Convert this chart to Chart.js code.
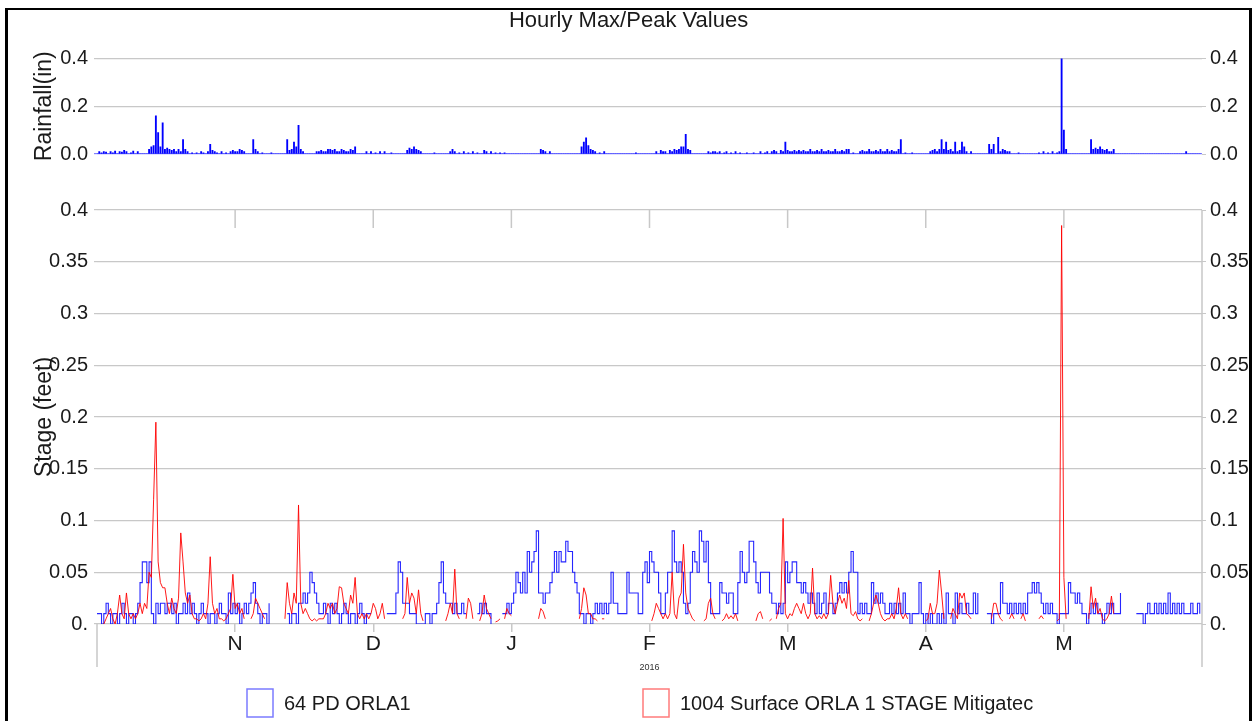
<!DOCTYPE html>
<html><head><meta charset="utf-8">
<script src="https://cdn.jsdelivr.net/npm/chart.js@4.4.1/dist/chart.umd.min.js"></script>
<style>
html,body{margin:0;padding:0;background:#fff;}
#wrap{position:relative;width:1257px;height:721px;overflow:hidden;background:#fff;}
#c1{position:absolute;left:0;top:0;}
#c2{position:absolute;left:0;top:180px;}
#frame{position:absolute;left:5px;top:8px;width:1241px;height:760px;border-top:2px solid #000;border-left:3px solid #000;border-right:3px solid #000;pointer-events:none;}
</style></head>
<body>
<div id="wrap">
<canvas id="c1" width="1257" height="180"></canvas>
<canvas id="c2" width="1257" height="541"></canvas>
<div id="frame"></div>
</div>
<script>
// ---------- DATA ----------
const chartTitle = 'Hourly Max/Peak Values';
const rainTitle = 'Rainfall(in)';
const stageTitle = 'Stage (feet)';
const seriesLabels = ['64 PD ORLA1', '1004 Surface ORLA 1 STAGE Mitigatec'];
const yearLabel = '2016';
const monthLabels = ['N','D','J','F','M','A','M'];
const monthTickDays = [30.5, 61, 91.5, 122, 152.5, 183, 213.5];
const rainTicks = [0, 0.2, 0.4];
const rainTickLabels = ['0.0', '0.2', '0.4'];
const stageTicks = [0, 0.05, 0.1, 0.15, 0.2, 0.25, 0.3, 0.35, 0.4];
const stageTickLabels = ['0.', '0.05', '0.1', '0.15', '0.2', '0.25', '0.3', '0.35', '0.4'];
const sampleStepDays = 0.5; // one value every half day, starting Oct 1 2015

// Rainfall (in), half-day samples
const rainfall = [
0,0.01,0.005,0.01,0.008,0,0.01,0.005,0.012,0,
0.01,0.008,0.015,0.01,0,0.005,0.012,0,0.01,0,
0,0,0,0.02,0.03,0.035,0.16,0.09,0.03,0.13,
0.02,0.025,0.02,0.015,0.02,0.01,0.02,0.01,0.06,0.02,
0.01,0,0.005,0,0.005,0,0.01,0.005,0,0.01,
0.04,0.015,0.01,0.005,0,0.01,0,0.005,0,0.01,
0.015,0.01,0.01,0.02,0.015,0.01,0,0,0,0.06,
0.02,0.01,0,0.005,0,0,0,0.005,0,0,
0,0,0,0,0.06,0.015,0.02,0.05,0.03,0.12,
0.02,0.01,0,0,0,0,0,0.01,0.01,0.015,
0.01,0.01,0.02,0.02,0.015,0.02,0.01,0.01,0.02,0.015,
0.01,0.01,0.02,0.015,0.03,0,0,0,0,0.01,
0,0.01,0,0.005,0,0.01,0,0.01,0,0,
0.005,0,0,0,0,0,0,0.015,0.025,0.02,
0.03,0.02,0.015,0.01,0,0,0,0,0,0.005,
0,0,0,0,0,0,0.01,0.02,0.01,0,
0.005,0,0.01,0,0.005,0,0.01,0,0.005,0,
0,0.015,0.01,0,0.01,0,0.005,0,0.005,0,
0.005,0,0,0,0,0,0,0,0,0,
0,0,0,0,0,0,0.02,0.015,0.01,0,
0.01,0,0,0,0,0,0,0,0,0,
0,0,0,0,0.03,0.05,0.068,0.035,0.02,0.015,
0.01,0,0.005,0,0.01,0,0,0,0,0,
0,0,0,0,0,0,0,0,0.005,0,
0,0,0,0,0,0,0,0.01,0,0.015,
0.01,0.01,0,0.015,0.01,0.02,0.015,0.02,0.03,0.03,
0.082,0.02,0.015,0,0,0,0,0,0,0,
0.01,0.005,0.01,0.01,0.005,0.01,0,0.005,0.01,0,
0.005,0,0.01,0,0.005,0,0,0.005,0,0,
0.005,0,0,0.01,0,0.005,0.01,0,0.01,0.015,
0.01,0,0.015,0.01,0.05,0.015,0.01,0.01,0.015,0.01,
0.015,0.01,0.015,0.01,0.01,0.02,0.01,0.01,0.015,0.01,
0.02,0.01,0.01,0.015,0.01,0.01,0.02,0.01,0.01,0.015,
0.01,0.02,0.02,0,0.005,0,0,0.01,0.015,0.01,
0.01,0.02,0.01,0.01,0.015,0.01,0.02,0.01,0.01,0.02,
0.01,0.015,0.01,0.01,0.02,0.06,0,0.005,0,0,
0.005,0,0,0,0,0,0,0,0.01,0.015,
0.02,0.01,0.02,0.06,0.02,0.05,0.015,0.02,0.01,0.05,
0.01,0.015,0.05,0.03,0.01,0,0.01,0,0,0,
0,0,0,0,0.04,0.02,0.04,0,0.07,0.01,
0.02,0.015,0.01,0.01,0,0,0,0.005,0,0,
0,0,0,0,0,0,0.005,0,0.01,0,
0.005,0,0.01,0,0.005,0.01,0.4,0.1,0.02,0,
0,0,0,0,0,0,0,0,0,0.06,
0.02,0.025,0.02,0.03,0.02,0.015,0.02,0.01,0.01,0.02,
0,0,0,0,0,0,0,0,0,0,
0,0,0,0,0,0,0,0,0,0,
0,0,0,0,0,0,0,0,0,0,
0,0.01,0,0,0,0,0,0
];

// Stage (feet) - 64 PD ORLA1, half-day samples
const stagePD = [
0.01,0.01,0,0.01,0.02,0.01,0,0.01,0.01,0,
0.01,0.02,0.01,0,0.01,0.01,0,0.01,0.02,0.04,
0.06,0.06,0.04,0.06,0.01,0,0.02,0.01,0.02,0.02,
0.01,0.02,0.02,0.01,0.02,0,0.01,0.01,0.02,0.01,
0.03,0.01,0.02,0.01,0,0.01,0.02,0.01,0.01,0,
0.01,0.01,0,0.01,0.02,0.01,0.01,0,0.03,0.01,
0.02,0.01,0.02,0,0.01,0.02,0.01,0.02,0.03,0.04,
0.02,0.01,0,0.01,0.01,0,0.02,null,null,null,
null,null,null,null,0.01,0,0.01,0.01,0,0.02,
0.02,0.03,0.02,0.03,0.05,0.04,0.03,0.02,0.01,0.01,
0.02,0.01,0,0.02,0.01,0.02,0.01,0,0.01,0.02,
0.01,0,0.01,0.01,0,0.01,0.02,0.01,0,0.01,
0.01,0.01,null,null,null,null,null,null,0.01,0.01,
0.01,0.01,0.03,0.06,0.05,0.02,0.02,0.02,0.01,0.01,
0.01,0,0,0,0,0.01,0.01,0,0.01,0.01,
0.02,0.04,0.06,0.03,0.02,0.02,0.02,0.01,0.02,0.01,
0.01,0.02,0.01,0.01,null,null,null,null,0.01,0.02,
0.01,0.02,0.01,0.01,0,null,null,null,null,0.01,
0.01,0.02,0.01,0.02,0.03,0.05,0.04,0.03,0.05,0.03,
0.07,0.05,0.06,0.07,0.09,0.03,0.03,0.02,0.03,0.03,
0.04,0.05,0.07,0.05,0.07,0.06,0.06,0.08,0.07,0.07,
0.05,0.04,0.03,0.01,0.01,0,0.01,0.01,0,0.01,
0.02,0.01,0.02,0.01,0.02,0.01,0.02,0.05,0.02,0.02,
0.01,0.01,0.01,0.01,0.05,0.03,0.03,0.03,0.03,0.01,
0.01,0.05,0.06,0.04,0.07,0.06,0.05,0.05,0.03,0.01,
0.01,0.03,0.05,0.05,0.09,0.06,0.05,0.06,0.05,0.02,
0.01,0.02,0.05,0.07,0.06,0.05,0.09,0.08,0.06,0.08,
0.04,0.01,0.01,0.01,0.01,0.04,0.03,0.03,0.02,0.03,
0.03,0.01,0.01,0.04,0.07,0.05,0.04,0.05,0.08,0.08,
0.06,0.04,0.03,0.05,0.05,0.05,0.05,0.03,0.02,0.02,
0.01,0.02,0.01,0.02,0.06,0.04,0.05,0.06,0.06,0.04,
0.04,0.03,0.04,0.03,0.02,0.03,0.02,0.01,0.03,0.01,
0.02,0.03,0.01,0.02,0.02,0.01,0.02,0.03,0.04,0.03,
0.04,0.03,0.05,0.07,0.05,0.05,0.01,0.02,0.01,0.02,
0.01,0.01,0.04,0.02,0.03,0.02,0.03,0.02,0.01,0.01,
0.02,0.01,0.02,0.01,0.02,0.01,0.03,0.01,0.01,0,
0.01,0.01,0.01,0.04,0.01,0,0.01,0,0.01,0,
0,0.01,0,0.01,0,0.03,0.01,0.01,0,0.03,
0.01,0.02,0.01,0.01,0.02,0.01,0.01,0.03,0.01,0.03,
null,null,null,0.01,0.01,0,0.01,0.01,0.01,0.04,
0.02,0.02,0.01,0.02,0.01,0.02,0.01,0.02,0.01,0.02,
0.01,0.03,0.03,0.04,0.03,0.04,0.03,0.02,0.01,0.02,
0.01,0.02,0.01,0.01,0,0.01,0.01,0.01,0.01,0.04,
0.03,0.03,0.02,0.03,0.02,0.01,0.01,0,0.01,0.02,
0.01,0.02,0.01,0.01,0,0.01,0.02,0.01,0.02,0.01,
0.01,0.01,0.03,null,null,null,null,null,null,0.01,
0.01,0.01,0,0.01,0.02,0.01,0.01,0.02,0.01,0.02,
0.01,0.02,0.01,0.03,0.01,0.02,0.01,0.02,0.01,0.02,
0.01,0.01,0.01,0.02,0.01,0.01,0.02,0.01
];

// Stage (feet) - 1004 Surface ORLA 1, half-day samples
const stageSurface = [
null,null,null,0,0.005,0.01,0.015,0.005,0,0.01,
0.028,0.01,0.005,0.03,0.01,0.005,0.01,0.005,0.01,0.02,
0.01,0.02,0.015,0.05,0.045,0.12,0.195,0.06,0.04,0.035,
0.035,0.02,0.01,0.025,0.015,0.01,0.025,0.088,0.06,0.03,
0.02,0.028,0.01,0.005,0.005,0.003,0.005,0.01,0.005,0.02,
0.065,0.02,0.01,0.015,0.005,0.005,0.003,0.005,0.01,0.015,
0.048,0.015,0.02,0.01,0.015,0.005,null,null,0.005,0.01,
0.025,0.02,0.015,0.01,0.005,null,null,null,0.003,null,
null,null,null,0.005,0.04,0.02,0.01,0.03,0.02,0.115,
0.02,0.01,0.015,0.01,0.005,0.003,0.005,0.003,0.005,0.005,
0.005,0.01,0.02,0.015,0.02,0.01,0.015,0.036,0.035,0.02,
0.015,0.01,0.028,0.02,0.045,0.01,0.005,0.01,0.005,0.01,
0.005,0.01,0.02,0.015,0.005,0.01,0.02,0.005,null,null,
null,null,null,null,null,0.005,0.01,0.045,0.02,0.03,
0.025,0.01,0.033,0.01,0.003,null,null,null,null,null,
null,null,null,null,0.003,0.01,0.02,0.01,0.053,0.01,
0.005,null,null,0.005,0.025,0.02,0.005,null,null,0.003,
0.01,0.028,0.015,0.01,0.005,null,0.002,0.003,0.005,null,
0.005,0.015,0.01,0.008,null,null,null,null,null,null,
null,null,null,null,null,0.005,0.015,0.012,0.005,null,
null,null,null,null,null,null,null,null,null,null,
null,null,null,0.005,0.015,0.035,0.028,0.01,0.01,0.005,
0.005,0.003,null,0.005,0.005,null,null,null,null,null,
null,null,null,null,null,null,null,null,null,null,
null,null,null,null,null,0.003,0.01,0.02,0.015,0.01,
0.005,0.01,0.005,0.01,0.05,0.01,0.005,0.025,0.03,0.077,
0.03,0.015,0.01,0.005,0.003,null,null,null,0.003,0.005,
0.02,0.025,0.01,0.005,null,null,0.003,0.005,0.01,0.005,
0.008,0.005,0.01,0.003,null,null,null,null,null,null,
null,0.003,0.01,0.012,0.005,null,null,0.003,0.005,null,
0.005,0.015,0.02,0.102,0.01,0.005,0.01,0.008,0.015,0.02,
0.015,0.01,0.02,0.01,0.005,0.01,0.054,0.01,0.005,0.008,
0.005,0.01,0.005,0.01,0.047,0.02,0.01,0.02,0.028,0.02,
0.025,0.015,0.042,0.01,0.008,0.012,0.005,0.003,0.005,null,
null,0.003,0.01,0.02,0.028,0.02,0.01,0.005,0.003,0.005,
0.005,0.01,0.005,0.015,0.035,0.01,0.005,0.01,0.005,null,
null,null,null,null,null,null,0.003,0.005,0.02,0.01,
0.01,0.02,0.052,0.03,0.005,null,null,0.005,0.015,0.01,
0.005,0.03,0.025,0.03,0.01,0.008,0.005,null,null,null,
null,null,0.002,null,null,0.005,0.02,0.02,0.01,0.005,
0.003,null,null,0.005,0.01,0.005,null,null,0.005,0.01,
0.003,null,null,null,null,null,0.005,0.008,0.005,null,
null,null,0.002,null,0.003,0.005,0.385,0.045,0.005,null,
null,null,null,null,null,null,null,null,0.005,0.036,
0.015,0.025,0.01,0.015,0.005,0.003,0.005,0.01,0.027,0.01
];

// ---------- FONTS ----------
function hasFont(name){
  const c = document.createElement('canvas').getContext('2d');
  const s = 'abcdefghijklmnopqrstuvwxyz0123456789ABCDEFGH';
  c.font = '40px monospace'; const a = c.measureText(s).width;
  c.font = '40px "' + name + '", monospace'; const b = c.measureText(s).width;
  return Math.abs(a - b) > 0.5;
}
const NARROW = hasFont('Liberation Sans Narrow');
const tickFamily = NARROW ? '"Liberation Sans Narrow"' : '"Liberation Sans", Arial, sans-serif';
const tickSize = NARROW ? 22 : 20;
const regFamily = '"Liberation Sans", Arial, sans-serif';
Chart.defaults.font.family = regFamily;

const GRID = '#c8c8c8';
const TXT = '#1a1a1a';
const X_MIN = 0, X_MAX = 244;
const toXY = arr => arr.map((v, i) => ({x: i * sampleStepDays, y: v}));

function yAxis(pos, ticksArr, labelsArr, opts){
  return Object.assign({
    position: pos, min: 0, max: 0.4,
    afterBuildTicks: s => { s.ticks = ticksArr.map(v => ({value: v})); },
    ticks: {callback: (v, i) => labelsArr[i], font: {family: tickFamily, size: tickSize}, color: TXT, padding: pos === 'left' ? 6 : 4},
    border: {display: false},
    afterFit: s => { s.width = pos === 'left' ? 97 : 55; }
  }, opts);
}

// ---------- TOP: rainfall ----------
new Chart(document.getElementById('c1'), {
  type: 'bar',
  data: {datasets: [{
    label: 'Rainfall', data: toXY(rainfall),
    backgroundColor: '#0000ff', borderWidth: 0, barThickness: 1.2
  }]},
  options: {
    responsive: false, animation: false, devicePixelRatio: 1,
    layout: {padding: {left: 0, right: 0, top: 0, bottom: 26}},
    plugins: {
      legend: {display: false}, tooltip: {enabled: false},
      title: {display: true, text: chartTitle, color: TXT,
        font: {family: regFamily, size: 22, weight: 'normal', lineHeight: 1.2},
        padding: {top: 8, bottom: 24}}
    },
    scales: {
      x: {type: 'linear', min: X_MIN, max: X_MAX, offset: false, grid: {offset: false}, display: false},
      y: yAxis('left', rainTicks, rainTickLabels, {
        grid: {color: c => (c.tick && c.tick.value === 0) ? '#8080ff' : GRID, tickLength: 3, lineWidth: 1.2},
        title: {display: true, text: rainTitle, color: TXT, font: {family: regFamily, size: 23, lineHeight: 1.2}, padding: {top: 31, bottom: 0}}
      }),
      y2: yAxis('right', rainTicks, rainTickLabels, {
        grid: {drawOnChartArea: false, color: GRID, tickLength: 4}
      })
    }
  }
});

// ---------- BOTTOM: stage ----------
const framePlugin = {
  id: 'frameLines',
  beforeDatasetsDraw(chart){
    const {ctx, chartArea: a, scales: {x}} = chart;
    ctx.save();
    ctx.strokeStyle = GRID; ctx.lineWidth = 1.5;
    ctx.beginPath();
    ctx.moveTo(a.left, a.bottom); ctx.lineTo(a.left, a.bottom + 43);
    ctx.moveTo(a.right, a.top); ctx.lineTo(a.right, a.bottom + 43);
    x.ticks.forEach(t => { const p = x.getPixelForValue(t.value); ctx.moveTo(p, a.top); ctx.lineTo(p, a.top + 18); });
    ctx.stroke();
    ctx.restore();
  },
  afterDraw(chart){
    const {ctx, chartArea: a, scales: {x}} = chart;
    ctx.save();
    ctx.fillStyle = '#333'; ctx.font = '9px ' + regFamily;
    ctx.textAlign = 'center'; ctx.textBaseline = 'middle';
    ctx.fillText(yearLabel, x.getPixelForValue(monthTickDays[3]), a.bottom + 44);
    // legend
    const legY = a.bottom + 79;
    chart.data.datasets.forEach((ds, i) => {
      const x0 = 247 + i * 396;
      ctx.strokeStyle = ds.legendColor; ctx.lineWidth = 1.5;
      ctx.strokeRect(x0, legY - 14, 26, 28);
      ctx.fillStyle = TXT; ctx.textAlign = 'left'; ctx.textBaseline = 'middle';
      ctx.font = (NARROW ? 23 : 20) + 'px ' + tickFamily;
      ctx.fillText(ds.label, x0 + 37, legY + 1);
    });
    ctx.restore();
  }
};

new Chart(document.getElementById('c2'), {
  type: 'line',
  data: {datasets: [
    {label: seriesLabels[0], data: toXY(stagePD), borderColor: 'rgba(0,0,255,0.85)', legendColor: '#7b7bff',
     borderWidth: 1.1, stepped: true, pointRadius: 0, spanGaps: false, order: 1},
    {label: seriesLabels[1], data: toXY(stageSurface), borderColor: 'rgba(255,0,0,0.9)', legendColor: '#ff7b7b',
     borderWidth: 1, pointRadius: 0, tension: 0, spanGaps: false, order: 0}
  ]},
  options: {
    responsive: false, animation: false, devicePixelRatio: 1,
    layout: {padding: {left: 0, right: 0, top: 30, bottom: 54}},
    plugins: {legend: {display: false}, tooltip: {enabled: false}, title: {display: false}},
    scales: {
      x: {type: 'linear', min: X_MIN, max: X_MAX,
        afterBuildTicks: s => { s.ticks = monthTickDays.map(v => ({value: v})); },
        ticks: {callback: (v, i) => monthLabels[i], font: {family: tickFamily, size: tickSize + 1}, color: TXT, padding: 0, maxRotation: 0, autoSkip: false},
        grid: {drawOnChartArea: false, tickLength: 8, color: GRID, lineWidth: 1.5},
        border: {display: false},
        afterFit: s => { s.height = 43; }
      },
      y: yAxis('left', stageTicks, stageTickLabels, {
        grid: {color: GRID, tickLength: 3, lineWidth: 1.2},
        title: {display: true, text: stageTitle, color: TXT, font: {family: regFamily, size: 23, lineHeight: 1.2}, padding: {top: 31, bottom: 0}}
      }),
      y2: yAxis('right', stageTicks, stageTickLabels, {
        grid: {drawOnChartArea: false, color: GRID, tickLength: 4}
      })
    }
  },
  plugins: [framePlugin]
});
</script>
</body></html>
